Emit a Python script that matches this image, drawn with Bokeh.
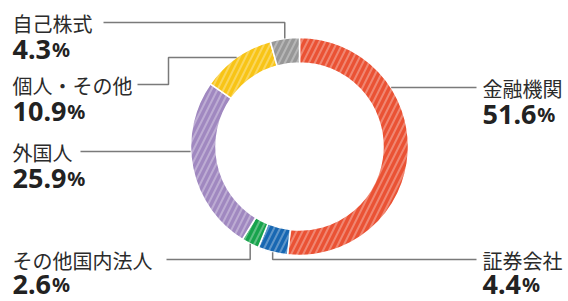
import numpy as np
from bokeh.plotting import figure
from bokeh.models import Range1d, ColumnDataSource
from bokeh.core.properties import value
from bokeh.embed import file_html
from bokeh.resources import INLINE

# ---- data ----
categories = ["金融機関", "証券会社", "その他国内法人", "外国人", "個人・その他", "自己株式"]
shares = [51.6, 4.4, 2.6, 25.9, 10.9, 4.3]
colors = ["#EA5234", "#1767B2", "#17A34C", "#A088C0", "#F8C416", "#979797"]

# ---- layout (reference pixel coords, y downward) ----
W, H = 568, 301
CX, CY = 299, 146
R_OUT, R_IN = 109, 83.5
label_side = ["right", "right", "left", "left", "left", "left"]
label_y = [87, 259, 259, 151, 84, 22]
num_offset = [27, 25, 25, 27, 27, 27]
leader_kind = ["ring", "vert", "vert", "ring", "step", "vert"]
line_start = [476, 476, 166, 80, 137, 103]
step_bend_x = 168
LEFT_X, RIGHT_X = 12, 482


def Y(ry):
    return H - ry


p = figure(width=W, height=H, output_backend="svg", toolbar_location=None,
           x_range=Range1d(0, W), y_range=Range1d(0, H),
           min_border=0, outline_line_color=None, background_fill_color="white")
p.axis.visible = False
p.grid.visible = False

total = sum(shares)
cum = np.concatenate([[0], np.cumsum(shares)]) / total
start = np.pi / 2 - 2 * np.pi * cum[:-1]
end = np.pi / 2 - 2 * np.pi * cum[1:]
mid = (start + end) / 2

src = ColumnDataSource(dict(start=start, end=end, color=colors))
p.annular_wedge(x=CX, y=Y(CY), inner_radius=R_IN, outer_radius=R_OUT,
                start_angle="start", end_angle="end", direction="clock",
                fill_color="color", line_color="white", line_width=1.5,
                hatch_pattern="/", hatch_color="white", hatch_alpha=0.3,
                hatch_scale=12, hatch_weight=2, source=src)

# leader lines
xs, ys = [], []
for i in range(len(categories)):
    ly = label_y[i]
    ax = CX + R_OUT * np.cos(mid[i])
    ay = CY - R_OUT * np.sin(mid[i])
    if leader_kind[i] == "ring":
        dy = ly - CY
        dx = np.sqrt(R_OUT ** 2 - dy ** 2)
        rx = CX + dx if label_side[i] == "right" else CX - dx
        px_, py_ = [line_start[i], rx], [ly, ly]
    elif leader_kind[i] == "vert":
        px_, py_ = [line_start[i], ax, ax], [ly, ly, ay]
    else:
        px_, py_ = [line_start[i], step_bend_x, step_bend_x, ax], [ly, ly, ay, ay]
    xs.append(px_)
    ys.append([Y(v) for v in py_])
p.multi_line(xs=xs, ys=ys, line_color="#7a7a7a", line_width=1.5)

# labels
tx = [RIGHT_X if s == "right" else LEFT_X for s in label_side]
num_txt = [f"{v:.1f}" for v in shares]
num_w = [len(t.replace(".", "")) * 15.4 + 7.6 for t in num_txt]
lab_src = ColumnDataSource(dict(x=tx, y=[Y(v + 1) for v in label_y], t=categories))
p.text(x="x", y="y", text="t", source=lab_src, text_font=value("Noto Sans CJK JP"),
       text_font_size="20px", text_color="#2b2b2b", text_baseline="middle", text_align="left")

num_src = ColumnDataSource(dict(x=tx, y=[Y(v + o) for v, o in zip(label_y, num_offset)],
                                t=num_txt, px=[a + w + 1 for a, w in zip(tx, num_w)]))
p.text(x="x", y="y", text="t", source=num_src, text_font=value("Noto Sans"),
       text_font_size="27px", text_font_style="bold", text_color="#222222",
       text_baseline="alphabetic", text_align="left")
p.text(x="px", y="y", text=value("%"), source=num_src, text_font=value("Noto Sans"),
       text_font_size="20px", text_font_style="bold", text_color="#222222",
       text_baseline="alphabetic", text_align="left")

open("out.html", "w").write(file_html(p, INLINE))
